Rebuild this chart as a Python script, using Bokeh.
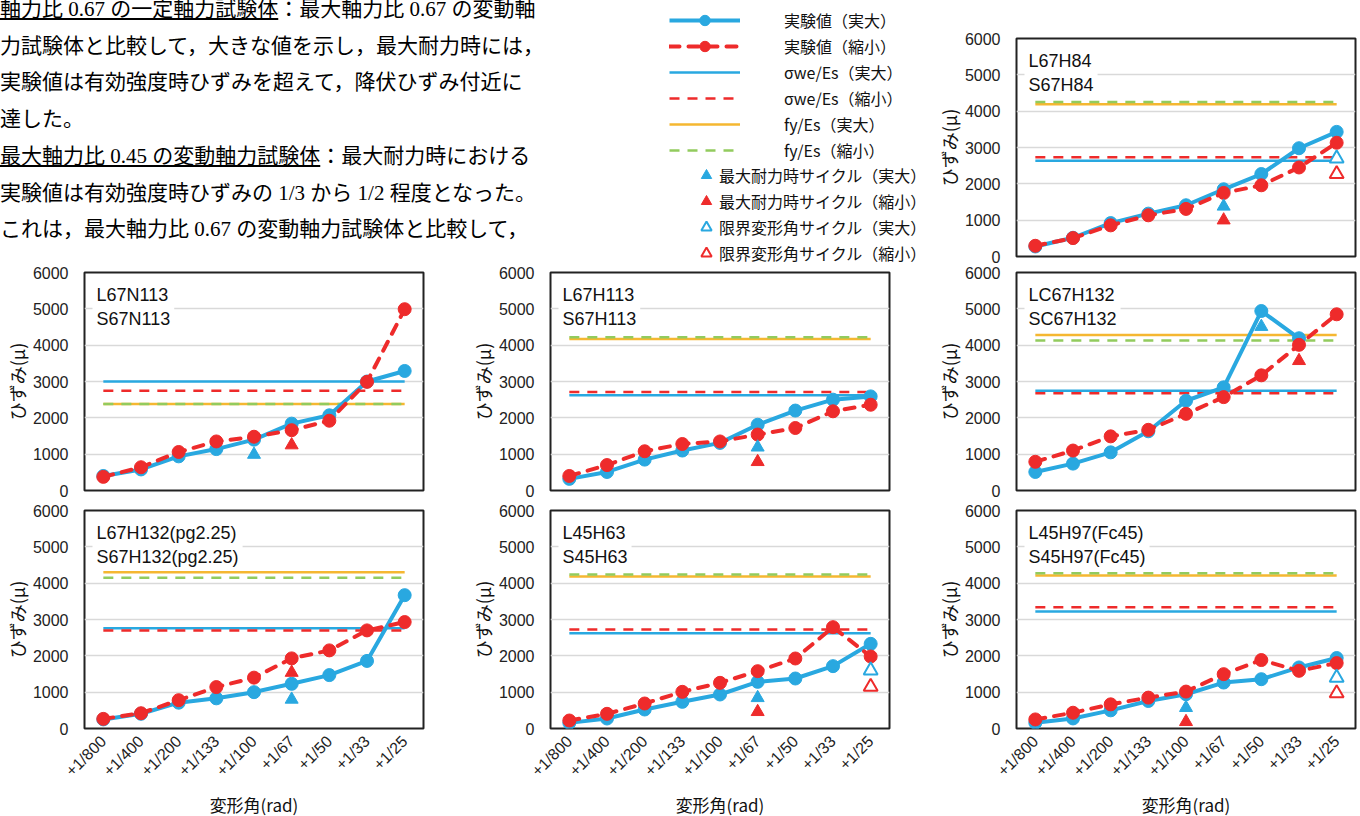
import math
from bokeh.plotting import figure
from bokeh.models import FactorRange, Range1d, FixedTicker, Label, Legend, LegendItem, Div
from bokeh.layouts import row, column
from bokeh.embed import file_html
from bokeh.resources import INLINE

BLUE = "#29A8E0"
RED = "#EE2B2B"
YELLOW = "#F5B731"
GREEN = "#92CB5E"

# ---------------- data ----------------
categories = ["+1/800", "+1/400", "+1/200", "+1/133", "+1/100", "+1/67", "+1/50", "+1/33", "+1/25"]
y_ticks = [0, 1000, 2000, 3000, 4000, 5000, 6000]

panel_labels = ["L67H84\nS67H84", "L67N113\nS67N113", "L67H113\nS67H113", "LC67H132\nSC67H132",
                "L67H132(pg2.25)\nS67H132(pg2.25)", "L45H63\nS45H63", "L45H97(Fc45)\nS45H97(Fc45)"]

exp_full_L67H84 = [275, 516, 920, 1180, 1410, 1850, 2270, 2980, 3430]
exp_scaled_L67H84 = [295, 507, 857, 1134, 1310, 1750, 1960, 2450, 3130]
exp_full_L67N113 = [400, 580, 940, 1140, 1400, 1840, 2070, 3000, 3290]
exp_scaled_L67N113 = [375, 640, 1060, 1350, 1480, 1660, 1920, 2990, 4990]
exp_full_L67H113 = [320, 510, 850, 1100, 1310, 1810, 2200, 2500, 2590]
exp_scaled_L67H113 = [400, 700, 1080, 1280, 1350, 1540, 1720, 2180, 2360]
exp_full_LC67H132 = [510, 740, 1050, 1630, 2470, 2840, 4940, 4190, float("nan")]
exp_scaled_LC67H132 = [790, 1100, 1490, 1670, 2110, 2570, 3170, 4010, 4850]
exp_full_L67H132pg = [250, 405, 710, 830, 1000, 1230, 1470, 1860, 3670]
exp_scaled_L67H132pg = [265, 420, 780, 1140, 1400, 1930, 2150, 2700, 2930]
exp_full_L45H63 = [155, 275, 523, 734, 936, 1284, 1376, 1716, 2330]
exp_scaled_L45H63 = [220, 404, 688, 1009, 1257, 1578, 1927, 2789, 1982]
exp_full_L45H97 = [157, 277, 500, 757, 942, 1265, 1357, 1680, 1940]
exp_scaled_L45H97 = [250, 434, 665, 850, 1016, 1496, 1884, 1588, 1800]

swe_full = [2635, 3000, 2620, 2745, 2760, 2624, 3220]
swe_scaled = [2730, 2745, 2710, 2680, 2700, 2725, 3340]
fy_full = [4190, 2380, 4170, 4280, 4300, 4183, 4210]
fy_scaled = [4250, 2380, 4220, 4130, 4150, 4240, 4270]

peak_full_cat = ["+1/67", "+1/100", "+1/67", "+1/50", "+1/67", "+1/67", "+1/100"]
peak_full_val = [1380, 990, 1190, 4510, 800, 844, 572]
peak_scaled_cat = ["+1/67", "+1/67", "+1/67", "+1/33", "+1/67", "+1/67", "+1/100"]
peak_scaled_val = [1000, 1250, 790, 3570, 1540, 460, 185]
limit_full_cat = ["+1/25", None, None, None, None, "+1/25", "+1/25"]
limit_full_val = [2700, None, None, None, None, 1600, 1400]
limit_scaled_cat = ["+1/25", None, None, None, None, "+1/25", "+1/25"]
limit_scaled_val = [2270, None, None, None, None, 1150, 970]

legend_labels = ["実験値（実大）", "実験値（縮小）", "σwe/Es（実大）", "σwe/Es（縮小）", "fy/Es（実大）", "fy/Es（縮小）"]
marker_labels = ["最大耐力時サイクル（実大）", "最大耐力時サイクル（縮小）", "限界変形角サイクル（実大）", "限界変形角サイクル（縮小）"]

CJK = "Noto Sans CJK JP"
LAT = "Liberation Sans"


def make_panel(i, full, scaled, right_border, top_border, bottom_border, show_x):
    p = figure(x_range=FactorRange(*categories), y_range=Range1d(0, 6000),
               frame_width=339, frame_height=218,
               min_border_left=83, min_border_right=right_border,
               min_border_top=top_border, min_border_bottom=bottom_border,
               x_axis_location="below" if show_x else None,
               output_backend="svg", toolbar_location=None)
    p.outline_line_color = "#222222"
    p.outline_line_width = 2
    p.yaxis.ticker = FixedTicker(ticks=y_ticks)
    p.yaxis.axis_line_color = None
    p.yaxis.major_tick_line_color = None
    p.yaxis.minor_tick_line_color = None
    p.yaxis.major_tick_out = 0
    p.yaxis.major_label_standoff = 16
    p.yaxis.major_label_text_font = LAT
    p.yaxis.major_label_text_font_size = "16px"
    p.yaxis.major_label_text_color = "#222222"
    p.yaxis.axis_label = "ひずみ(μ)"
    p.yaxis.axis_label_text_font = CJK
    p.yaxis.axis_label_text_font_size = "18px"
    p.yaxis.axis_label_text_font_style = "normal"
    p.yaxis.axis_label_text_color = "#111111"
    p.yaxis.axis_label_standoff = 0
    p.ygrid.grid_line_color = "#D9D9D9"
    p.ygrid.grid_line_width = 1.5
    p.xgrid.visible = False
    if show_x:
        p.xaxis.axis_line_color = None
        p.xaxis.major_tick_line_color = None
        p.xaxis.major_tick_out = 0
        p.xaxis.major_label_orientation = math.pi / 4
        p.xaxis.major_label_standoff = 10
        p.xaxis.major_label_text_font = LAT
        p.xaxis.major_label_text_font_size = "16px"
        p.xaxis.major_label_text_color = "#222222"
        p.xaxis.axis_label = "変形角(rad)"
        p.xaxis.axis_label_text_font = CJK
        p.xaxis.axis_label_text_font_size = "17px"
        p.xaxis.axis_label_text_font_style = "normal"
        p.xaxis.axis_label_text_color = "#111111"
        p.xaxis.axis_label_standoff = 4

    ends = [categories[0], categories[-1]]
    p.line(ends, [fy_full[i]] * 2, color=YELLOW, line_width=2.5)
    p.line(ends, [fy_scaled[i]] * 2, color=GREEN, line_width=2.5, line_dash="10 8")
    p.line(ends, [swe_full[i]] * 2, color=BLUE, line_width=2.5)
    p.line(ends, [swe_scaled[i]] * 2, color=RED, line_width=2.5, line_dash="10 8")

    p.line(categories, full, color=BLUE, line_width=4)
    p.scatter(categories, full, size=13, color=BLUE)
    p.line(categories, scaled, color=RED, line_width=4, line_dash="10 9", line_cap="round")
    p.scatter(categories, scaled, size=13, color=RED)

    p.scatter([peak_full_cat[i]], [peak_full_val[i]], marker="triangle", size=13, color=BLUE)
    p.scatter([peak_scaled_cat[i]], [peak_scaled_val[i]], marker="triangle", size=13, color=RED)
    if limit_full_cat[i] is not None:
        p.scatter([limit_full_cat[i]], [limit_full_val[i]], marker="triangle", size=14,
                  line_color=BLUE, line_width=2, fill_color="white")
    if limit_scaled_cat[i] is not None:
        p.scatter([limit_scaled_cat[i]], [limit_scaled_val[i]], marker="triangle", size=14,
                  line_color=RED, line_width=2, fill_color="white")

    lab = Label(x=0, y=6000, x_offset=8, y_offset=-8, text=panel_labels[i],
                text_font=LAT, text_font_size="18px", text_color="#111111",
                text_align="left", text_baseline="top",
                background_fill_color="white", padding=4)
    p.add_layout(lab)
    return p


# ---------------- paragraph ----------------
para_html = (
    '<div style="margin-top:-9px;font-family:\'Liberation Serif\',\'Noto Sans CJK JP\',serif;'
    'font-size:21px;line-height:36.7px;white-space:nowrap;color:#000;">'
    '<u>軸力比 0.67 の一定軸力試験体</u>：最大軸力比 0.67 の変動軸<br>'
    '力試験体と比較して，大きな値を示し，最大耐力時には，<br>'
    '実験値は有効強度時ひずみを超えて，降伏ひずみ付近に<br>'
    '達した。<br>'
    '<u>最大軸力比 0.45 の変動軸力試験体</u>：最大耐力時における<br>'
    '実験値は有効強度時ひずみの 1/3 から 1/2 程度となった。<br>'
    'これは，最大軸力比 0.67 の変動軸力試験体と比較して，'
    '</div>'
)
para = Div(text=para_html, width=650, height=265, margin=0, styles={"overflow": "hidden"})

# ---------------- legend ----------------
leg = figure(title=None, width=280, height=265, x_range=Range1d(0, 1), y_range=Range1d(0, 1),
             x_axis_type=None, y_axis_type=None, min_border=0,
             output_backend="svg", toolbar_location=None)
leg.outline_line_color = None
leg.grid.visible = False
dx, dy = [5, 6], [5, 5]
r_fl = leg.line(dx, dy, color=BLUE, line_width=4)
r_fs = leg.scatter([5], [5], size=13, color=BLUE)
r_sl = leg.line(dx, dy, color=RED, line_width=4, line_dash="10 9", line_cap="round")
r_ss = leg.scatter([5], [5], size=13, color=RED)
r_swf = leg.line(dx, dy, color=BLUE, line_width=2.5)
r_sws = leg.line(dx, dy, color=RED, line_width=2.5, line_dash="10 8")
r_fyf = leg.line(dx, dy, color=YELLOW, line_width=2.5)
r_fys = leg.line(dx, dy, color=GREEN, line_width=2.5, line_dash="10 8")
r_pf = leg.scatter([5], [5], marker="triangle", color=BLUE)
r_ps = leg.scatter([5], [5], marker="triangle", color=RED)
r_lf = leg.scatter([5], [5], marker="triangle", line_color=BLUE, line_width=2, fill_color="white")
r_ls = leg.scatter([5], [5], marker="triangle", line_color=RED, line_width=2, fill_color="white")

common = dict(padding=0, margin=0, border_line_color=None, background_fill_alpha=0,
              label_text_font=CJK, label_text_font_size="16px", label_text_color="#111111",
              glyph_height=26, label_height=20, spacing=0)
legend1 = Legend(items=[LegendItem(label=legend_labels[0], renderers=[r_fl, r_fs]),
                        LegendItem(label=legend_labels[1], renderers=[r_sl, r_ss]),
                        LegendItem(label=legend_labels[2], renderers=[r_swf]),
                        LegendItem(label=legend_labels[3], renderers=[r_sws]),
                        LegendItem(label=legend_labels[4], renderers=[r_fyf]),
                        LegendItem(label=legend_labels[5], renderers=[r_fys])],
                 location=(19, 102), glyph_width=71, label_standoff=44, **common)
legend2 = Legend(items=[LegendItem(label=marker_labels[0], renderers=[r_pf]),
                        LegendItem(label=marker_labels[1], renderers=[r_ps]),
                        LegendItem(label=marker_labels[2], renderers=[r_lf]),
                        LegendItem(label=marker_labels[3], renderers=[r_ls])],
                 location=(43, -1), glyph_width=26, label_standoff=-2, **common)
leg.add_layout(legend1)
leg.add_layout(legend2)

# ---------------- panels ----------------
p0 = make_panel(0, exp_full_L67H84, exp_scaled_L67H84, 8, 38, 9, False)
p1 = make_panel(1, exp_full_L67N113, exp_scaled_L67N113, 43, 7, 10, False)
p2 = make_panel(2, exp_full_L67H113, exp_scaled_L67H113, 43, 7, 10, False)
p3 = make_panel(3, exp_full_LC67H132, exp_scaled_LC67H132, 8, 7, 10, False)
p4 = make_panel(4, exp_full_L67H132pg, exp_scaled_L67H132pg, 43, 10, 88, True)
p5 = make_panel(5, exp_full_L45H63, exp_scaled_L45H63, 43, 10, 88, True)
p6 = make_panel(6, exp_full_L45H97, exp_scaled_L45H97, 8, 10, 88, True)

left_block = column(row(para, leg), row(p1, p2), row(p4, p5))
right_block = column(p0, p3, p6)
layout = row(left_block, right_block)

open("out.html", "w").write(file_html(layout, INLINE))
